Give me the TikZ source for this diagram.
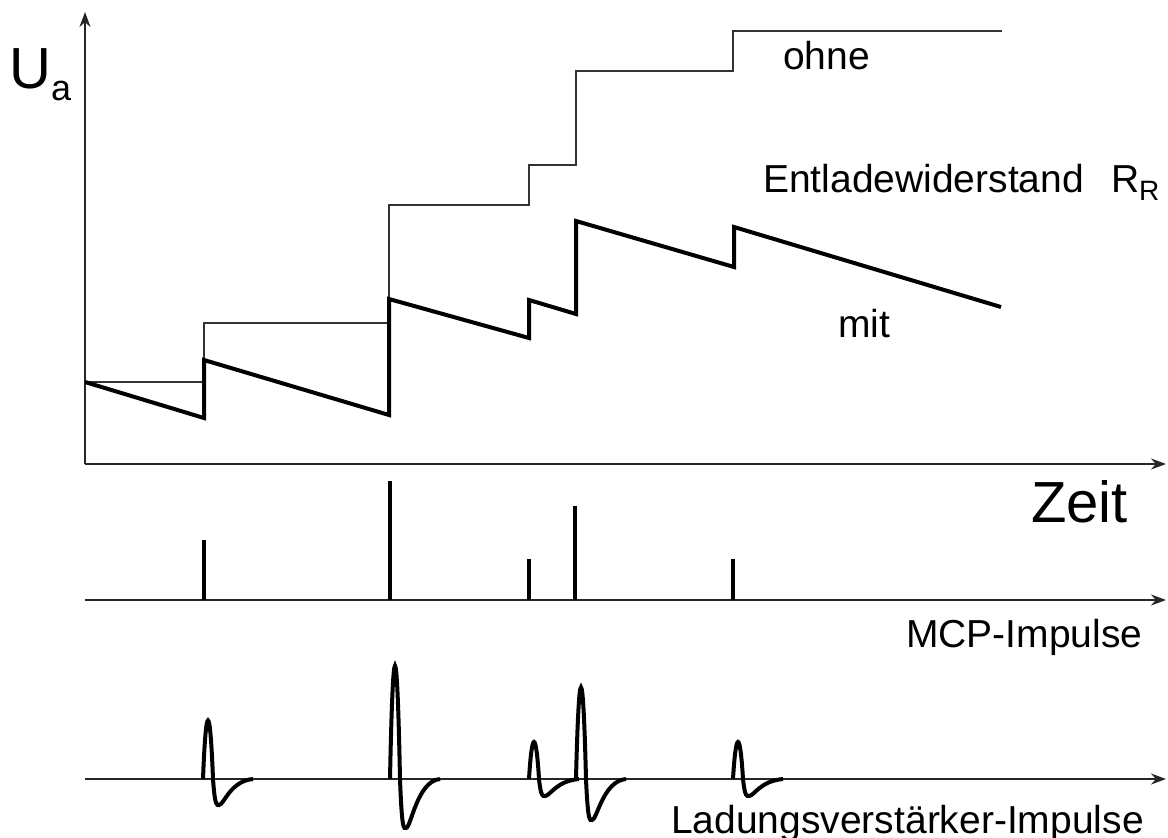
\documentclass[tikz,border=0pt]{standalone}
\usepackage{fontspec}
\setmainfont{Liberation Sans}
\usetikzlibrary{arrows.meta}
\tikzset{
	axis/.style={line width=2pt, black!85, -{Stealth[length=15pt,width=11pt]}},
	ohneline/.style={line width=1.4pt, black!80},
	mitline/.style={line width=4pt, line join=miter},
	impuls/.style={line width=3.5pt},
	lade/.style={line width=4pt},
	lbl/.style={inner sep=0pt, anchor=base west},
}
\newcommand{\lblsize}{\fontsize{39}{41}\selectfont}
\begin{document}
\begin{tikzpicture}[x=1pt,y=-1pt]
		\useasboundingbox (0,0) rectangle (1168,838);
		%--axes
		\draw[axis] (85,464) -- (85,12);
		\draw[axis] (85,464) -- (1166,464);
		\draw[axis] (85,600) -- (1166,600);
		\draw[axis] (85,779) -- (1166,779);
		
		%--U_a without discharge resistor
		\draw[ohneline] (85,382) -- (204,382) |- (389,323) |- (529,205) |- (576,165) |- (733,71) |- (1002,31);
		%--U_a with discharge resistor
		\draw[mitline] (85,382) -- (204,418) -- (204,360) -- (389,415) -- (389,299) -- (529,338) -- (529,300)
			-- (576,314) -- (576,221) -- (734,267) -- (734,227) -- (1001,307);
		
		%--MCP pulses
		\foreach \x/\h in {204/540, 390/481, 529/559, 575/506, 733/559}
			\draw[impuls] (\x,600) -- (\x,\h);
		
		%--charge amplifier pulses
		\foreach \x/\a/\b in {203/60/26, 390/116/49, 529/38/17, 576/94/41, 733/38/17}
			\draw[lade] (\x,779) .. controls ({\x+3},{779-1.3*\a}) and ({\x+7},{779-1.3*\a}) .. ({\x+10},779)
				.. controls ({\x+12},{779+1.1*\b}) and ({\x+14},{779+\b}) .. ({\x+16},{779+\b})
				.. controls ({\x+21},{779+\b}) and ({\x+27},781) .. ({\x+50},779);
		
		%--labels
		\node[lbl] (ua) at (9,88) {\fontsize{58}{60}\selectfont U\raisebox{-12pt}{\fontsize{36}{36}\selectfont a}};
		\node[lbl] (ohne) at (783,69) {\lblsize ohne};
		\node[lbl] (entlade) at (763,192) {\lblsize Entladewiderstand\hspace{27pt}R\raisebox{-8pt}{\fontsize{28}{28}\selectfont R}};
		\node[lbl] (mit) at (838,337) {\lblsize mit};
		\node[lbl] (zeit) at (1031,522) {\fontsize{58}{60}\selectfont Zeit};
		\node[lbl] (mcp) at (906,647) {\lblsize MCP-Impulse};
		\node[lbl] (ladung) at (671,833) {\lblsize Ladungsverstärker-Impulse};
\end{tikzpicture}
\end{document}
